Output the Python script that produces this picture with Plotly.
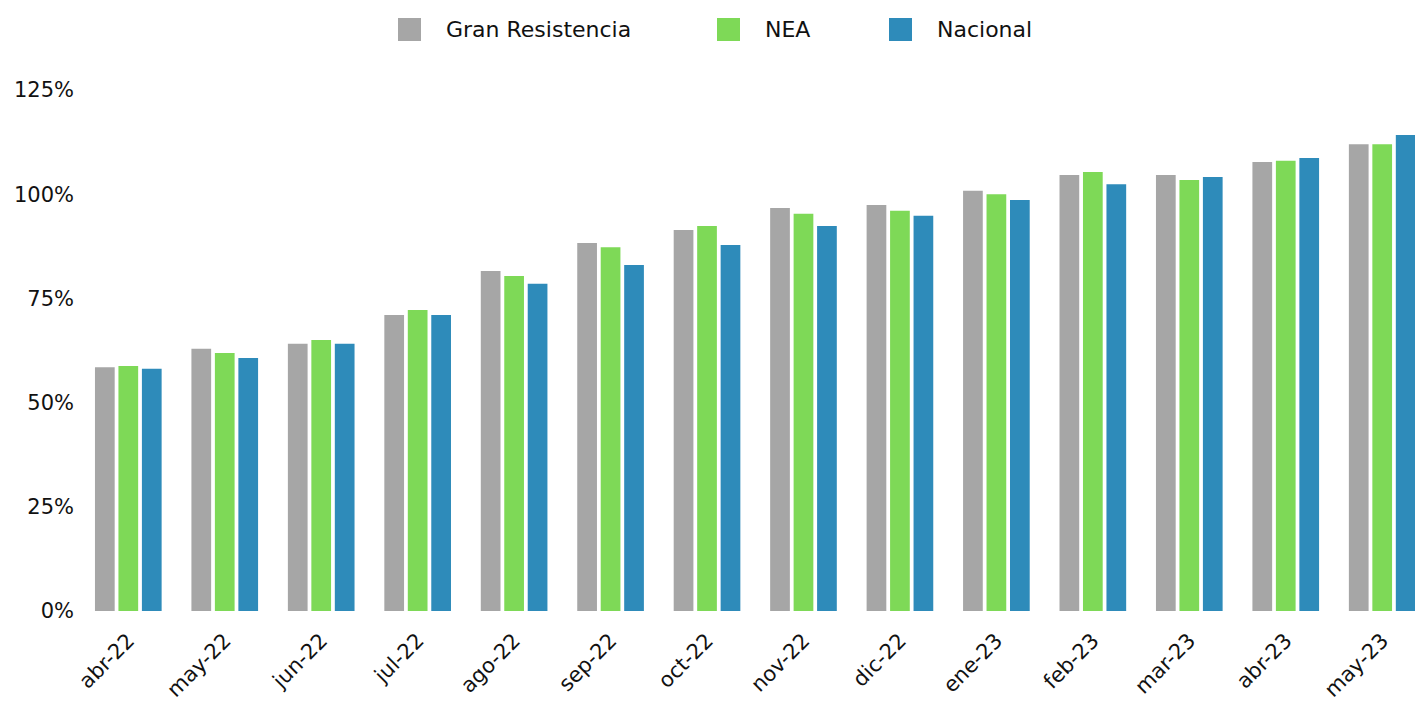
import plotly.graph_objects as go

months = ["abr-22", "may-22", "jun-22", "jul-22", "ago-22", "sep-22", "oct-22",
          "nov-22", "dic-22", "ene-23", "feb-23", "mar-23", "abr-23", "may-23"]
gran_resistencia = [58.5, 62.9, 64.1, 71.0, 81.6, 88.3, 91.4, 96.7, 97.4, 100.8, 104.6, 104.6, 107.7, 112.0]
nea = [58.8, 61.9, 65.0, 72.2, 80.4, 87.3, 92.4, 95.3, 96.0, 100.0, 105.3, 103.4, 108.0, 112.0]
nacional = [58.1, 60.7, 64.1, 71.0, 78.5, 83.0, 87.8, 92.4, 94.8, 98.6, 102.4, 104.1, 108.7, 114.2]
series_names = ["Gran Resistencia", "NEA", "Nacional"]
colors = ["#a6a6a6", "#7ed957", "#2e8bba"]
y_ticks = [0, 25, 50, 75, 100, 125]

FONT = "DejaVu Sans"
W, H = 1415, 704
L, R, T, B = 82, 0, 90, 93

fig = go.Figure()
for name, vals, col in zip(series_names, [gran_resistencia, nea, nacional], colors):
    fig.add_trace(go.Bar(x=months, y=vals, name=name, marker=dict(color=col, line=dict(width=0)),
                         showlegend=False, hoverinfo="skip"))

pw = W - L - R
ph = H - T - B
def px(x):
    return (x - L) / pw
def py(y):
    return (H - B - y) / ph

# manual legend
leg_marker_x = [398, 717, 889]
shapes = []
annotations = []
for i, (name, col) in enumerate(zip(series_names, colors)):
    x0 = leg_marker_x[i]
    shapes.append(dict(type="rect", xref="paper", yref="paper",
                       x0=px(x0), x1=px(x0 + 23), y0=py(41), y1=py(18),
                       fillcolor=col, line=dict(width=0)))
    annotations.append(dict(xref="paper", yref="paper", x=px(x0 + 47), y=py(30),
                            text=name, showarrow=False, xanchor="left", yanchor="middle",
                            borderpad=0,
                            font=dict(family=FONT, size=22, color="#111111")))

fig.update_layout(
    width=W, height=H,
    margin=dict(l=L, r=R, t=T, b=B, pad=0, autoexpand=False),
    paper_bgcolor="white", plot_bgcolor="white",
    barmode="group", bargap=0.27, bargroupgap=0.16,
    shapes=shapes, annotations=annotations,
    font=dict(family=FONT, size=20, color="#111111"),
    xaxis=dict(range=[-0.48, 13.34], tickangle=-45, showgrid=False, showline=False,
               zeroline=False, ticks="", automargin=False, ticklabelstandoff=12,
               tickfont=dict(size=21, family=FONT)),
    yaxis=dict(range=[0, 125], tickvals=y_ticks, ticktext=[f"{v}%" for v in y_ticks],
               showgrid=False, showline=False, zeroline=False, ticks="", automargin=False,
               ticklabelstandoff=7, tickfont=dict(size=21, family=FONT)),
)

fig.write_html("out.html", config={"displayModeBar": False},
               post_script="document.body.style.margin='0px';document.body.style.overflow='hidden';")
